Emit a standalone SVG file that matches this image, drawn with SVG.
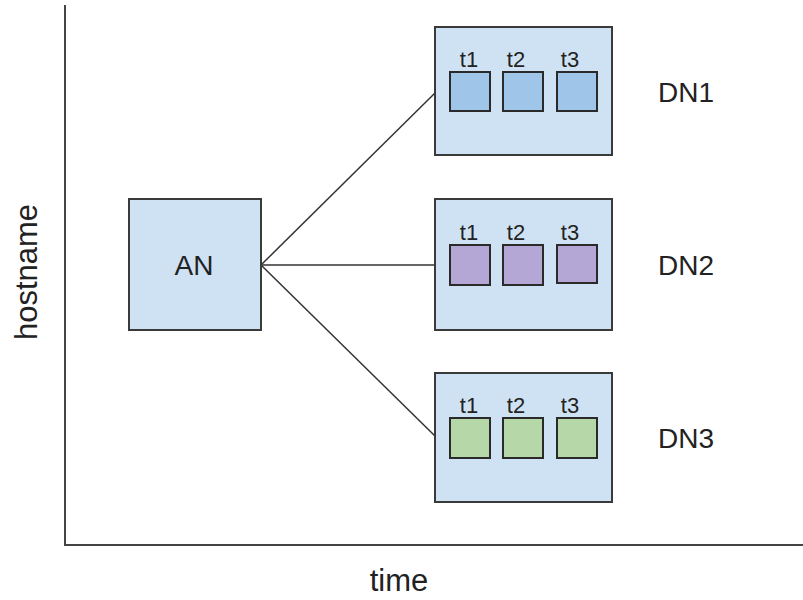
<svg xmlns="http://www.w3.org/2000/svg" width="803" height="600" viewBox="0 0 803 600">
<style>
text{font-family:"Liberation Sans",Arial,sans-serif;fill:#222}
.box{fill:#cfe2f3;stroke:#3a3a3a;stroke-width:2}
.sq{stroke:#2a2a2a;stroke-width:2}
.b{fill:#9fc5e8}.p{fill:#b4a7d6}.g{fill:#b6d7a8}
.big{font-size:28px;text-anchor:middle}
.axl{font-size:31px;text-anchor:middle}
.t{font-size:22px;text-anchor:middle}
.ln{stroke:#333;stroke-width:1.5;fill:none}
.ax{stroke:#444;stroke-width:2;fill:none}
</style>
<g id="axes">
<path class="ax" d="M65,5 V545 H803"/>
<text class="axl" x="399" y="591">time</text>
<text class="axl" transform="translate(37,272) rotate(-90)">hostname</text>
</g>
<g id="connectors">
<line class="ln" x1="261" y1="265" x2="435" y2="93"/>
<line class="ln" x1="261" y1="265" x2="435" y2="265"/>
<line class="ln" x1="261" y1="265" x2="435" y2="436"/>
</g>
<g id="AN">
<rect class="box" x="129" y="199" width="132" height="131"/>
<text class="big" x="194" y="275">AN</text>
</g>
<g id="DN1">
<rect class="box" x="435" y="27" width="177" height="128"/>
<rect class="sq b" x="450" y="72" width="40" height="39"/>
<rect class="sq b" x="503" y="72" width="40" height="39"/>
<rect class="sq b" x="557" y="72" width="40" height="39"/>
<text class="t" x="469" y="67">t1</text>
<text class="t" x="516" y="67">t2</text>
<text class="t" x="570" y="67">t3</text>
<text class="big" x="686" y="102">DN1</text>
</g>
<g id="DN2">
<rect class="box" x="435" y="199" width="177" height="131"/>
<rect class="sq p" x="450" y="245" width="40" height="40"/>
<rect class="sq p" x="503" y="245" width="40" height="40"/>
<rect class="sq p" x="557" y="245" width="40" height="38"/>
<text class="t" x="469" y="240">t1</text>
<text class="t" x="516" y="240">t2</text>
<text class="t" x="570" y="240">t3</text>
<text class="big" x="686" y="275">DN2</text>
</g>
<g id="DN3">
<rect class="box" x="435" y="373" width="177" height="129"/>
<rect class="sq g" x="450" y="418" width="40" height="40"/>
<rect class="sq g" x="503" y="418" width="40" height="40"/>
<rect class="sq g" x="557" y="418" width="40" height="40"/>
<text class="t" x="469" y="413">t1</text>
<text class="t" x="516" y="413">t2</text>
<text class="t" x="570" y="413">t3</text>
<text class="big" x="686" y="448">DN3</text>
</g>
</svg>
